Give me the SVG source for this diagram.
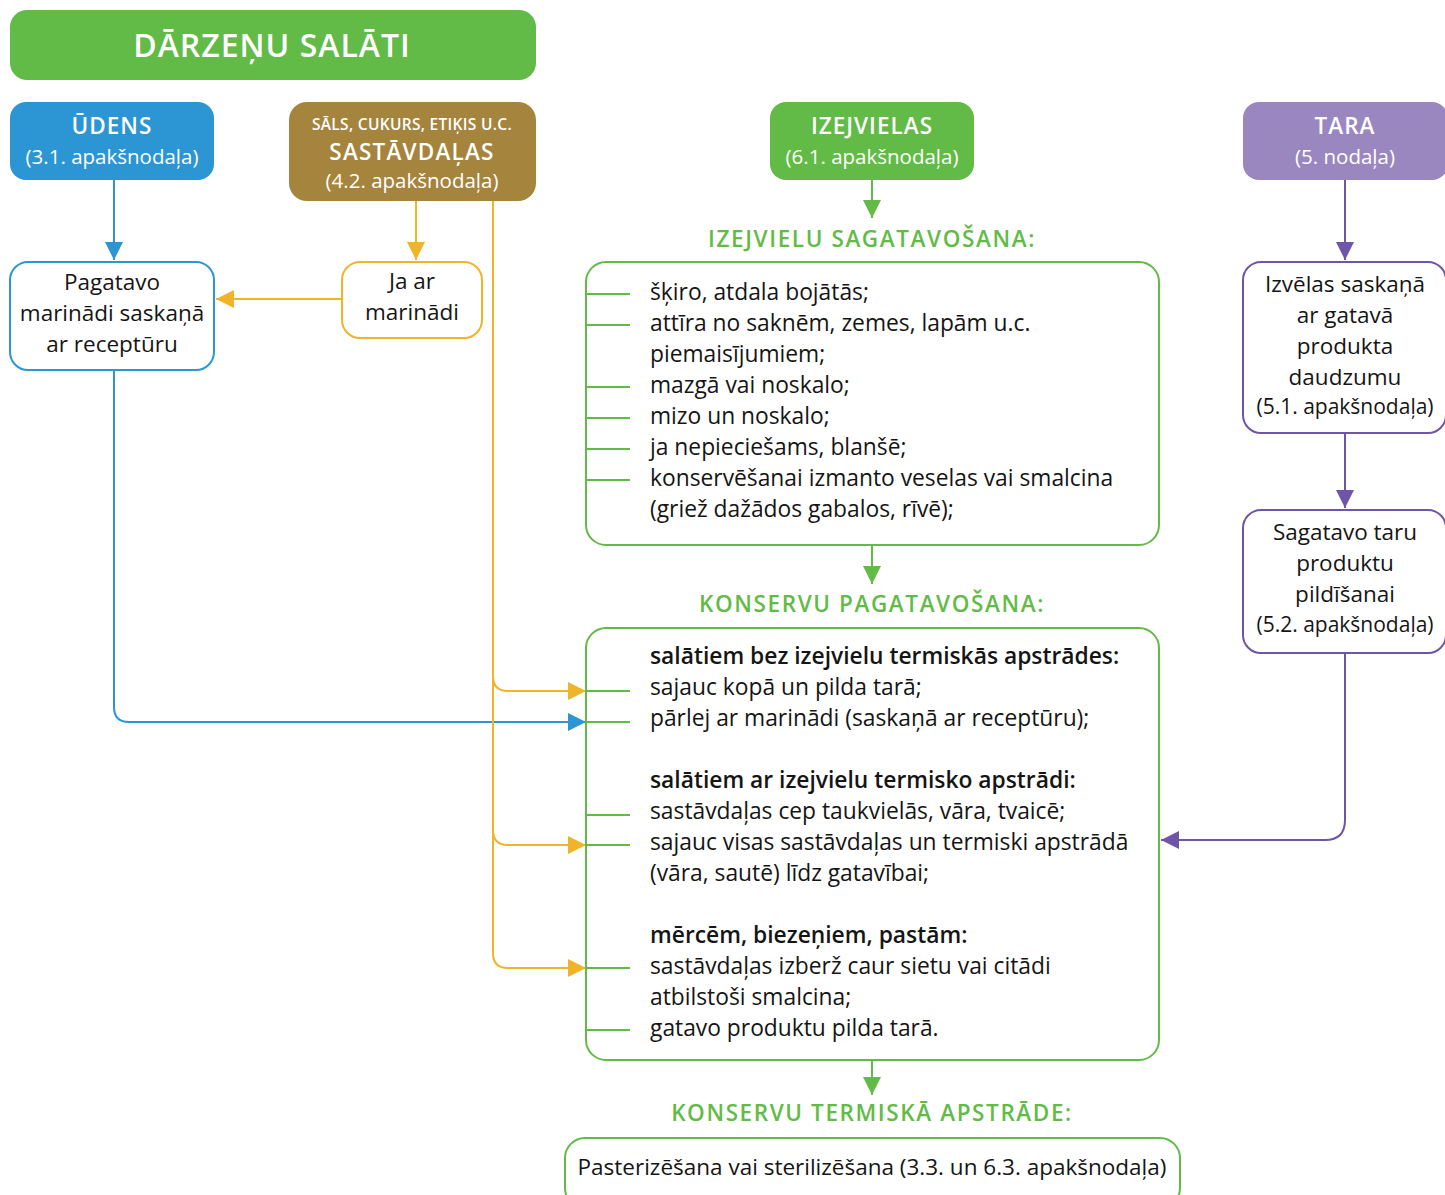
<svg xmlns="http://www.w3.org/2000/svg" width="1445" height="1195" viewBox="0 0 1445 1195">
<defs>
<style>
text{font-family:"Open Sans",Lato,"DejaVu Sans",sans-serif;}
.w{fill:#fff;text-anchor:middle;}
.c{text-anchor:middle;fill:#151515;font-size:22.5px;}
.t{fill:#151515;font-size:22.8px;}
.s{font-size:21px;}
.b{font-weight:600;}
.h{fill:#62bb46;font-size:22.5px;font-weight:600;letter-spacing:1.6px;text-anchor:middle;}
.gb{fill:none;stroke:#62bb46;stroke-width:2;}
.tick{stroke:#62bb46;stroke-width:2;}
.ln{fill:none;stroke-width:2;}
</style>
<marker id="ag" markerUnits="userSpaceOnUse" markerWidth="20" markerHeight="20" refX="18" refY="9" orient="auto"><path d="M0,0 L18,9 L0,18 z" fill="#62bb46"/></marker>
<marker id="ab" markerUnits="userSpaceOnUse" markerWidth="20" markerHeight="20" refX="18" refY="9" orient="auto"><path d="M0,0 L18,9 L0,18 z" fill="#2b96d3"/></marker>
<marker id="ao" markerUnits="userSpaceOnUse" markerWidth="20" markerHeight="20" refX="18" refY="9" orient="auto"><path d="M0,0 L18,9 L0,18 z" fill="#f0b429"/></marker>
<marker id="ap" markerUnits="userSpaceOnUse" markerWidth="20" markerHeight="20" refX="18" refY="9" orient="auto"><path d="M0,0 L18,9 L0,18 z" fill="#6f55a8"/></marker>
</defs>
<rect width="1445" height="1195" fill="#fff"/>

<g id="connectors">
<path class="ln" stroke="#2b96d3" d="M114,180 V260" marker-end="url(#ab)"/>
<path class="ln" stroke="#2b96d3" d="M114,370 V707 Q114,722 129,722 H586" marker-end="url(#ab)"/>
<path class="ln" stroke="#f0b429" d="M416,201 V260" marker-end="url(#ao)"/>
<path class="ln" stroke="#f0b429" d="M342,299 H216" marker-end="url(#ao)"/>
<path class="ln" stroke="#f0b429" d="M493,201 V953 Q493,968 508,968 H586" marker-end="url(#ao)"/>
<path class="ln" stroke="#f0b429" d="M493,676 Q493,691 508,691 H586" marker-end="url(#ao)"/>
<path class="ln" stroke="#f0b429" d="M493,830 Q493,845 508,845 H586" marker-end="url(#ao)"/>
<path class="ln" stroke="#62bb46" d="M872,180 V218" marker-end="url(#ag)"/>
<path class="ln" stroke="#62bb46" d="M872,545 V584" marker-end="url(#ag)"/>
<path class="ln" stroke="#62bb46" d="M872,1060 V1095" marker-end="url(#ag)"/>
<path class="ln" stroke="#6f55a8" d="M1345,180 V260" marker-end="url(#ap)"/>
<path class="ln" stroke="#6f55a8" d="M1345,433 V508" marker-end="url(#ap)"/>
<path class="ln" stroke="#6f55a8" d="M1345,653 V820 Q1345,840 1325,840 H1161" marker-end="url(#ap)"/>
</g>

<g id="title">
<rect x="10" y="10" width="526" height="70" rx="17" fill="#62bb46"/>
<text class="w" x="272" y="57" font-size="32" font-weight="600" letter-spacing="1">DĀRZEŅU SALĀTI</text>
</g>

<g id="udens">
<rect x="10" y="102" width="204" height="78" rx="16" fill="#2b96d3"/>
<text class="w b" x="112" y="134" font-size="22.5" letter-spacing="1">ŪDENS</text>
<text class="w" x="112" y="164" font-size="20.5">(3.1. apakšnodaļa)</text>
</g>

<g id="sastavdalas">
<rect x="289" y="102" width="247" height="99" rx="18" fill="#a5843d"/>
<text class="w b" x="412" y="130" font-size="15.5" letter-spacing="0.3">SĀLS, CUKURS, ETIĶIS U.C.</text>
<text class="w b" x="412" y="160" font-size="22.5" letter-spacing="1.2">SASTĀVDAĻAS</text>
<text class="w" x="412" y="188" font-size="20.5">(4.2. apakšnodaļa)</text>
</g>

<g id="izejvielas">
<rect x="770" y="102" width="204" height="78" rx="16" fill="#62bb46"/>
<text class="w b" x="872" y="134" font-size="22.5" letter-spacing="1">IZEJVIELAS</text>
<text class="w" x="872" y="164" font-size="20.5">(6.1. apakšnodaļa)</text>
</g>

<g id="tara">
<rect x="1243" y="102" width="205" height="78" rx="16" fill="#9b87c0"/>
<text class="w b" x="1345" y="134" font-size="22.5" letter-spacing="1">TARA</text>
<text class="w" x="1345" y="164" font-size="20.5">(5. nodaļa)</text>
</g>

<g id="pagatavo">
<rect x="10" y="262" width="204" height="108" rx="18" fill="#fff" stroke="#2b96d3" stroke-width="2"/>
<text class="c" x="112" y="290">Pagatavo</text>
<text class="c" x="112" y="321">marinādi saskaņā</text>
<text class="c" x="112" y="352">ar receptūru</text>
</g>

<g id="ja-ar">
<rect x="342" y="262" width="140" height="76" rx="18" fill="#fff" stroke="#f0b429" stroke-width="2"/>
<text class="c" x="412" y="289">Ja ar</text>
<text class="c" x="412" y="320">marinādi</text>
</g>

<g id="izejvielu-sagatavosana">
<text class="h" x="872" y="247">IZEJVIELU  SAGATAVOŠANA:</text>
<rect class="gb" x="586" y="262" width="573" height="283" rx="20" fill="#fff"/>
<line class="tick" x1="586" y1="294" x2="630" y2="294"/>
<line class="tick" x1="586" y1="325" x2="630" y2="325"/>
<line class="tick" x1="586" y1="387" x2="630" y2="387"/>
<line class="tick" x1="586" y1="418" x2="630" y2="418"/>
<line class="tick" x1="586" y1="449" x2="630" y2="449"/>
<line class="tick" x1="586" y1="480" x2="630" y2="480"/>
<text class="t" x="650" y="300">šķiro, atdala bojātās;</text>
<text class="t" x="650" y="331">attīra no saknēm, zemes, lapām u.c.</text>
<text class="t" x="650" y="362">piemaisījumiem;</text>
<text class="t" x="650" y="393">mazgā vai noskalo;</text>
<text class="t" x="650" y="424">mizo un noskalo;</text>
<text class="t" x="650" y="455">ja nepieciešams, blanšē;</text>
<text class="t" x="650" y="486">konservēšanai izmanto veselas vai smalcina</text>
<text class="t" x="650" y="517">(griež dažādos gabalos, rīvē);</text>
</g>

<g id="konservu-pagatavosana">
<text class="h" x="872" y="612">KONSERVU  PAGATAVOŠANA:</text>
<rect class="gb" x="586" y="628" width="573" height="432" rx="20" fill="#fff"/>
<line class="tick" x1="586" y1="691" x2="630" y2="691"/>
<line class="tick" x1="586" y1="722" x2="630" y2="722"/>
<line class="tick" x1="586" y1="815" x2="630" y2="815"/>
<line class="tick" x1="586" y1="845" x2="630" y2="845"/>
<line class="tick" x1="586" y1="968" x2="630" y2="968"/>
<line class="tick" x1="586" y1="1030" x2="630" y2="1030"/>
<text class="t b" x="650" y="664">salātiem bez izejvielu termiskās apstrādes:</text>
<text class="t" x="650" y="695">sajauc kopā un pilda tarā;</text>
<text class="t" x="650" y="726">pārlej ar marinādi (saskaņā ar receptūru);</text>
<text class="t b" x="650" y="788">salātiem ar izejvielu termisko apstrādi:</text>
<text class="t" x="650" y="819">sastāvdaļas cep taukvielās, vāra, tvaicē;</text>
<text class="t" x="650" y="850">sajauc visas sastāvdaļas un termiski apstrādā</text>
<text class="t" x="650" y="881">(vāra, sautē) līdz gatavībai;</text>
<text class="t b" x="650" y="943">mērcēm, biezeņiem, pastām:</text>
<text class="t" x="650" y="974">sastāvdaļas izberž caur sietu vai citādi</text>
<text class="t" x="650" y="1005">atbilstoši smalcina;</text>
<text class="t" x="650" y="1036">gatavo produktu pilda tarā.</text>
</g>

<g id="izvelas">
<rect x="1243" y="262" width="203" height="171" rx="18" fill="#fff" stroke="#6f55a8" stroke-width="2"/>
<text class="c" x="1345" y="292">Izvēlas saskaņā</text>
<text class="c" x="1345" y="323">ar gatavā</text>
<text class="c" x="1345" y="354">produkta</text>
<text class="c" x="1345" y="385">daudzumu</text>
<text class="c s" x="1345" y="414">(5.1. apakšnodaļa)</text>
</g>

<g id="sagatavo-taru">
<rect x="1243" y="510" width="203" height="143" rx="18" fill="#fff" stroke="#6f55a8" stroke-width="2"/>
<text class="c" x="1345" y="540">Sagatavo taru</text>
<text class="c" x="1345" y="571">produktu</text>
<text class="c" x="1345" y="602">pildīšanai</text>
<text class="c s" x="1345" y="632">(5.2. apakšnodaļa)</text>
</g>

<g id="termiska-apstrade">
<text class="h" x="872" y="1121">KONSERVU TERMISKĀ APSTRĀDE:</text>
<rect class="gb" x="565" y="1138" width="615" height="70" rx="20" fill="#fff"/>
<text class="c" x="872" y="1175">Pasterizēšana vai sterilizēšana (3.3. un 6.3. apakšnodaļa)</text>
</g>
</svg>
